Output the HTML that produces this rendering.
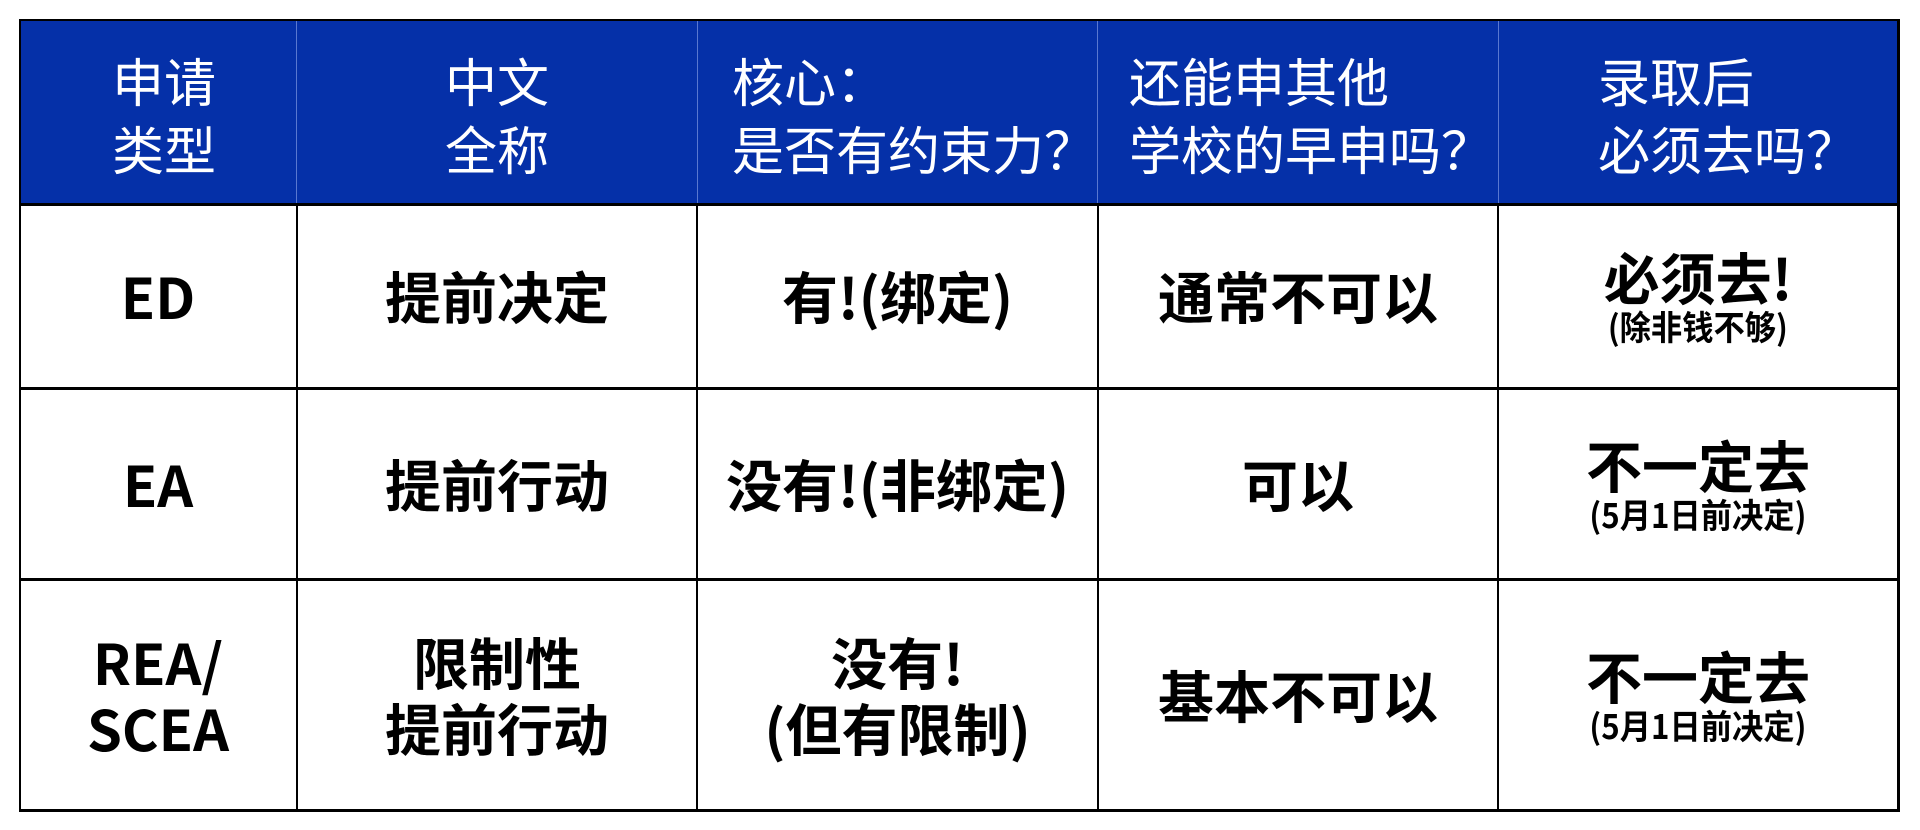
<!DOCTYPE html>
<html><head><meta charset="utf-8"><style>
html,body{margin:0;padding:0;background:#fff;}
body{width:1920px;height:830px;position:relative;overflow:hidden;font-family:"Liberation Sans","Noto Sans CJK SC",sans-serif;}
.hdr{position:absolute;left:20px;top:21px;width:1878px;height:183px;background:#0530a8;}
.vl{position:absolute;background:#000;width:2px;}
.hl{position:absolute;background:#000;height:3px;left:19px;width:1881px;}
.hv{position:absolute;top:21px;height:183px;width:1px;background:#5a78d0;}
.c{position:absolute;display:flex;align-items:center;justify-content:center;flex-direction:column;text-align:center;font-weight:bold;color:#000;font-family:"Noto Sans CJK SC",sans-serif;}
.h{position:absolute;color:#fff;font-size:52px;line-height:68px;font-family:"Noto Sans CJK SC",sans-serif;white-space:nowrap;}
.b{font-size:56px;line-height:66px;}
.s{font-size:34px;line-height:38px;transform:scaleX(0.92);}
</style></head><body>
<div class="hdr"></div>
<div class="hv" style="left:296px"></div>
<div class="hv" style="left:697px"></div>
<div class="hv" style="left:1097px"></div>
<div class="hv" style="left:1498px"></div>

<div class="h" style="left:112px;top:46px;">申请<br>类型</div>
<div class="h" style="left:445px;top:46px;">中文<br>全称</div>
<div class="h" style="left:732px;top:46px;">核心：<br>是否有约束力？</div>
<div class="h" style="left:1129px;top:46px;">还能申其他<br>学校的早申吗？</div>
<div class="h" style="left:1598px;top:46px;">录取后<br>必须去吗？</div>

<div class="hl" style="top:19px;height:2px"></div>
<div class="hl" style="top:203px"></div>
<div class="hl" style="top:387px"></div>
<div class="hl" style="top:578px"></div>
<div class="hl" style="top:809px"></div>
<div class="vl" style="left:19px;top:19px;height:793px"></div>
<div class="vl" style="left:1897px;top:19px;height:793px;width:3px"></div>
<div class="vl" style="left:296px;top:204px;height:607px"></div>
<div class="vl" style="left:696px;top:204px;height:607px"></div>
<div class="vl" style="left:1097px;top:204px;height:607px"></div>
<div class="vl" style="left:1497px;top:204px;height:607px"></div>

<div class="c b" style="left:20px;top:205px;width:276px;height:182px">ED</div>
<div class="c b" style="left:298px;top:205px;width:398px;height:182px">提前决定</div>
<div class="c b" style="left:698px;top:205px;width:399px;height:182px">有!(绑定)</div>
<div class="c b" style="left:1099px;top:205px;width:398px;height:182px">通常不可以</div>
<div class="c" style="left:1499px;top:205px;width:398px;height:182px"><div class="b" style="line-height:60px">必须去!</div><div class="s">(除非钱不够)</div></div>

<div class="c b" style="left:20px;top:390px;width:276px;height:188px">EA</div>
<div class="c b" style="left:298px;top:390px;width:398px;height:188px">提前行动</div>
<div class="c b" style="left:698px;top:390px;width:399px;height:188px">没有!(非绑定)</div>
<div class="c b" style="left:1099px;top:390px;width:398px;height:188px">可以</div>
<div class="c" style="left:1499px;top:390px;width:398px;height:188px"><div class="b" style="line-height:60px">不一定去</div><div class="s">(5月1日前决定)</div></div>

<div class="c b" style="left:20px;top:581px;width:276px;height:228px">REA/<br>SCEA</div>
<div class="c b" style="left:298px;top:581px;width:398px;height:228px">限制性<br>提前行动</div>
<div class="c b" style="left:698px;top:581px;width:399px;height:228px">没有!<br>(但有限制)</div>
<div class="c b" style="left:1099px;top:581px;width:398px;height:228px">基本不可以</div>
<div class="c" style="left:1499px;top:581px;width:398px;height:228px"><div class="b" style="line-height:60px">不一定去</div><div class="s">(5月1日前决定)</div></div>
</body></html>
